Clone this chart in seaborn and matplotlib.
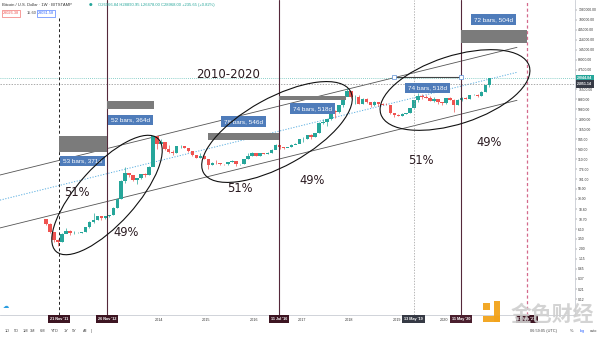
import numpy as np
import pandas as pd
import matplotlib
matplotlib.use("Agg")
import matplotlib.pyplot as plt
import matplotlib.dates as mdates
from matplotlib.patches import Ellipse, Rectangle
from matplotlib.transforms import blended_transform_factory
from matplotlib.ticker import NullLocator
import seaborn as sns

# ---------------------------------------------------------------- data
# Monthly BTC/USD candles (Bitstamp), Aug 2011 .. Dec 2020
months = pd.date_range("2011-08-01", "2020-12-01", freq="MS")
first_open = 10.5
closes = [
    8.2, 5.1, 3.3, 3.0, 4.7,
    5.5, 4.9, 4.9, 5.0, 5.2, 6.7, 9.3, 10.2, 12.4, 11.2, 12.6, 13.5,
    20.4, 33.4, 93.0, 139.0, 129.0, 97.0, 106.0, 135.0, 127.0, 198.0, 1120.0, 732.0,
    800, 550, 450, 445, 630, 640, 585, 480, 388, 338, 378, 320,
    217, 254, 244, 236, 230, 263, 284, 230, 236, 314, 377, 430,
    369, 437, 416, 448, 531, 673, 624, 573, 608, 700, 742, 964,
    970, 1190, 1080, 1350, 2300, 2480, 2875, 4700, 4340, 6450, 9950, 13850,
    10200, 10300, 6930, 9240, 7500, 6390, 7730, 7030, 6630, 6370, 4040, 3740,
    3460, 3810, 4100, 5320, 8570, 10820, 10080, 9600, 8300, 9150, 7560, 7190,
    9350, 8540, 6410, 8630, 9450, 9140, 11350, 11650, 10780, 13800, 19700, 29044.84,
]
highs = [
    11.0, 8.5, 5.2, 3.5, 4.9,
    6.5, 5.8, 5.4, 5.3, 5.3, 6.8, 9.5, 15.0, 12.6, 12.6, 12.8, 13.7,
    20.5, 33.5, 95.0, 200.0, 135.0, 125.0, 110.0, 135.0, 140.0, 205.0, 1150.0, 1000.0,
    950, 820, 680, 530, 630, 670, 640, 590, 490, 400, 440, 380,
    300, 265, 290, 255, 240, 265, 295, 280, 242, 318, 440, 460,
    440, 440, 430, 455, 535, 740, 670, 610, 612, 710, 748, 968,
    1100, 1195, 1250, 1350, 2500, 2900, 2880, 4700, 4800, 6400, 10500, 16500,
    14000, 11200, 11300, 9600, 9800, 7700, 8300, 7700, 7300, 7400, 6400, 4150,
    3900, 4100, 4130, 5500, 8800, 12500, 11900, 11500, 10500, 10000, 9200, 7600,
    9500, 10200, 9000, 9300, 9900, 10100, 11400, 12200, 11800, 13900, 19500, 29300,
]
lows = [
    7.5, 4.8, 2.9, 2.4, 2.9,
    4.9, 4.4, 4.7, 4.8, 4.9, 5.2, 6.6, 8.5, 10.1, 10.1, 10.6, 12.3,
    13.3, 19.8, 33.0, 80.0, 112.0, 92.0, 75.0, 102.0, 112.0, 125.0, 205.0, 560.0,
    750, 530, 445, 380, 440, 570, 570, 465, 375, 325, 335, 312,
    180, 218, 242, 220, 228, 225, 258, 210, 228, 238, 315, 360,
    362, 370, 412, 418, 448, 535, 560, 548, 598, 610, 705, 748,
    820, 950, 950, 1090, 1360, 2200, 2000, 2800, 3200, 4200, 5800, 10900,
    9800, 7000, 6800, 6700, 7200, 5900, 6200, 6100, 6300, 6300, 3900, 3300,
    3400, 3450, 3850, 4100, 5400, 7600, 9200, 9400, 8000, 7500, 6900, 6600,
    7000, 8500, 4400, 6600, 8200, 9000, 9100, 11100, 10200, 10700, 13300, 18000,
]
last_price = 29044.84

# trend channel (upper / centre / lower), start and end of each line
channel_dates = ["2010-08-27", "2021-07-15"]
channel_upper = [127.0, 165000.0]
channel_mid = [31.0, 40600.0]
channel_lower = [6.5, 8420.0]

# measured date ranges
range_starts = ["2011-11-21", "2012-11-26", "2015-01-14", "2016-07-11", "2018-12-10", "2020-05-11"]
range_ends = ["2012-11-26", "2013-11-25", "2016-07-11", "2017-12-11", "2020-05-11", "2021-09-27"]
range_labels = ["53 bars, 371d", "52 bars, 364d", "78 bars, 546d",
                "74 bars, 518d", "74 bars, 518d", "72 bars, 504d"]

# marked events on the time axis
event_dates = ["2011-11-21", "2012-11-26", "2016-07-11", "2019-05-13", "2020-05-11", "2021-09-27"]
event_labels = ["21 Nov '11", "26 Nov '12", "11 Jul '16", "13 May '19", "11 May '20", "27 Sep '21"]

share_labels = ["51%", "49%", "51%", "49%", "51%", "49%"]
title_text = "2010-2020"

price_ticks = [0.12, 0.21, 0.37, 0.65, 1.15, 2.00, 3.50, 6.10, 10.70, 18.80,
               33.00, 58.00, 101.00, 176.00, 310.00, 540.00, 945.00, 1650.00,
               2890.00, 5060.00, 8860.00, 15500.00, 47500.00, 83000.00,
               145000.00, 254000.00, 445000.00, 780000.00, 1360000.00]
year_ticks = [2014, 2015, 2016, 2017, 2018, 2019, 2020]

# ---------------------------------------------------------------- figure
W_PX, H_PX, DPI = 600, 337, 100
sns.set_theme(style="white")
plt.rcParams["font.family"] = ["DejaVu Sans", "Noto Sans CJK SC"]

UP, DOWN = "#26a69a", "#ef5350"
MAROON = "#55283a"

fig = plt.figure(figsize=(W_PX / DPI, H_PX / DPI), dpi=DPI)
fig.patch.set_facecolor("white")
ax = fig.add_axes([0, 22 / H_PX, 575 / W_PX, 315 / H_PX])
ax.set_facecolor("white")
ax.set_yscale("log")
ax.set_xlim(pd.Timestamp("2010-08-27"), pd.Timestamp("2022-10-04"))
ax.set_ylim(0.0489, 2.355e6)

inch = fig.dpi_scale_trans
def px(x, y):
    """figure position (inches) of a pixel measured from the top-left corner"""
    return x / DPI, (H_PX - y) / DPI

xdata_ypx = blended_transform_factory(ax.transData, inch)
xaxes_ydata = blended_transform_factory(ax.transAxes, ax.transData)

# ---------------------------------------------------------------- candles
mid = months + pd.Timedelta(days=14)
opens = [first_open] + closes[:-1]
colors = [UP if c >= o else DOWN for o, c in zip(opens, closes)]
body_lo = np.minimum(opens, closes)
body_hi = np.maximum(opens, closes)
ax.vlines(mid, lows, highs, colors=colors, lw=0.5, zorder=3)
ax.bar(mid, body_hi - body_lo, bottom=body_lo, width=27, color=colors,
       linewidth=0, zorder=4)

# ---------------------------------------------------------------- channel
cd = pd.to_datetime(channel_dates)
chan = pd.DataFrame({"date": list(cd) * 3,
                     "price": channel_upper + channel_mid + channel_lower,
                     "line": ["upper"] * 2 + ["mid"] * 2 + ["lower"] * 2})
sns.lineplot(data=chan[chan.line == "upper"], x="date", y="price", ax=ax,
             color="#555555", lw=0.6, zorder=2)
sns.lineplot(data=chan[chan.line == "lower"], x="date", y="price", ax=ax,
             color="#555555", lw=0.6, zorder=2)
sns.lineplot(data=chan[chan.line == "mid"], x="date", y="price", ax=ax,
             color="#5aaee0", lw=0.7, ls=(0, (1.2, 1.6)), zorder=2)

# last price line and crosshair
ax.axhline(last_price, color=UP, lw=0.6, ls=(0, (1, 1.5)), alpha=0.7, zorder=2)
cross_y = ax.transData.inverted().transform((0, H_PX - 84))[1]
ax.axhline(cross_y, color="#888888", lw=0.5, ls=(0, (2, 2)), zorder=2)

# ---------------------------------------------------------------- event lines
ev = pd.to_datetime(event_dates)
ax.axvline(ev[0], ymax=1 - 18 / 315, color="#222222", lw=0.7, ls=(0, (3, 2.5)), zorder=5)
for d in (ev[1], ev[2], ev[4]):
    ax.axvline(d, color=MAROON, lw=0.8, zorder=5)
ax.axvline(ev[3], color="#9a9a9a", lw=0.5, ls=(0, (2, 2)), zorder=5)
ax.axvline(ev[5], color="#d46a8c", lw=0.9, ls=(0, (2.5, 2)), zorder=5)

# ---------------------------------------------------------------- date ranges
rs = pd.to_datetime(range_starts)
re_ = pd.to_datetime(range_ends)
band_px = [(136, 152), (101, 109), (133, 140), (96, 99.5), None, (30, 43)]
label_px = [161, 120, 121.5, 108.5, 88, 19.5]
for s, e, band, ly, txt in zip(rs, re_, band_px, label_px, range_labels):
    x0, x1 = mdates.date2num(s), mdates.date2num(e)
    if band is not None:
        y_top, y_bot = band
        ax.add_patch(Rectangle((x0, (H_PX - y_bot) / DPI), x1 - x0,
                               (y_bot - y_top) / DPI, transform=xdata_ypx,
                               facecolor="#7b7b7b", edgecolor="none", zorder=6))
    else:
        ax.plot([x0, x1], [(H_PX - 77) / DPI] * 2, transform=xdata_ypx,
                color="#444444", lw=0.8, zorder=6)
        ax.plot([x0, x1], [(H_PX - 77) / DPI] * 2, transform=xdata_ypx, ls="none",
                marker="s", ms=2.2, mfc="white", mec="#5b8fd6", mew=0.5, zorder=7)
    ax.text((x0 + x1) / 2, (H_PX - ly) / DPI, txt, transform=xdata_ypx,
            ha="center", va="center", fontsize=4.6, color="white",
            family="Liberation Sans", zorder=8,
            bbox=dict(boxstyle="square,pad=0.45", fc="#4f7cba", ec="none"))

# ---------------------------------------------------------------- ellipses & notes
ellipses = [((107, 195), 76, 29, 48), ((277, 132), 84, 34, 29), ((455, 90), 78, 34, 18)]
for (cx, cy), a, b, ang in ellipses:
    fig.add_artist(Ellipse(px(cx, cy), 2 * a / DPI, 2 * b / DPI, angle=ang,
                           transform=inch, fill=False, ec="#111111", lw=0.8, zorder=9))

share_px = [(77, 193), (126, 232), (240, 188), (312, 180), (421, 160), (489, 143)]
for (x, y), t in zip(share_px, share_labels):
    fig.text(*px(x, y), t, transform=inch, ha="center", va="center",
             fontsize=8.3, color="#2a1a20", zorder=10)
fig.text(*px(228, 75), title_text, transform=inch, ha="center", va="center",
         fontsize=8.5, color="#2a1a20", zorder=10)

# ---------------------------------------------------------------- axes styling
for side in ("top", "left"):
    ax.spines[side].set_visible(False)
for side in ("right", "bottom"):
    ax.spines[side].set_color("#c9ccd3")
    ax.spines[side].set_linewidth(0.6)
ax.yaxis.tick_right()
ax.yaxis.set_minor_locator(NullLocator())
ax.set_yticks(price_ticks)
ax.set_yticklabels([f"{v:.2f}" for v in price_ticks])
ax.tick_params(axis="y", labelsize=2.4, length=1.2, width=0.3, pad=1.2,
               colors="#444444", labelcolor="#333333")
ax.set_xticks([pd.Timestamp(f"{y}-01-01") for y in year_ticks])
ax.set_xticklabels([str(y) for y in year_ticks])
ax.tick_params(axis="x", labelsize=2.7, length=0, pad=2.2, labelcolor="#333333")
ax.set_xlabel("")
ax.set_ylabel("")
ax.grid(False)
for lbl in ax.get_xticklabels() + ax.get_yticklabels():
    lbl.set_family("Liberation Sans")

# date tags on the time axis
tag_colors = ["#3d1522", "#3d1522", "#3d1522", "#363a45", "#4a1f2e", "#3d1522"]
for d, t, c in zip(ev, event_labels, tag_colors):
    ax.text(mdates.date2num(d), (H_PX - 319) / DPI, t, transform=xdata_ypx,
            ha="center", va="center", fontsize=2.7, color="white", weight="bold",
            family="Liberation Sans", zorder=12, clip_on=False,
            bbox=dict(boxstyle="square,pad=0.5", fc=c, ec="none"))

# price tags on the price axis
ax.text(1.004, last_price, f"{last_price:.2f}", transform=xaxes_ydata, ha="left",
        va="center", fontsize=2.5, color="white", weight="bold", family="Liberation Sans",
        clip_on=False, zorder=12, bbox=dict(boxstyle="square,pad=0.45", fc=UP, ec="none"))
ax.text(1.004, cross_y, f"{cross_y:.2f}", transform=xaxes_ydata, ha="left",
        va="center", fontsize=2.5, color="white", weight="bold", family="Liberation Sans",
        clip_on=False, zorder=12, bbox=dict(boxstyle="square,pad=0.45", fc="#363a45", ec="none"))

# ---------------------------------------------------------------- header / footer
fig.text(*px(2, 5), "Bitcoin / U.S. Dollar · 1W · BITSTAMP", transform=inch,
         fontsize=3.0, color="#333333", va="center", family="Liberation Sans")
fig.text(*px(91, 5), "●", transform=inch, fontsize=3.0, color=UP, va="center", ha="center")
fig.text(*px(98, 5), "O26966.84 H28890.95 L26478.00 C28968.00 +235.65 (+0.82%)",
         transform=inch, fontsize=3.0, color=UP, va="center", family="Liberation Sans")
fig.text(*px(3, 13.5), "29026.38", transform=inch, fontsize=2.8, color=DOWN, va="center",
         family="Liberation Sans",
         bbox=dict(boxstyle="square,pad=0.35", fc="white", ec=DOWN, lw=0.4))
fig.text(*px(27, 13.5), "15.60", transform=inch, fontsize=2.8, color="#444444",
         va="center", family="Liberation Sans")
fig.text(*px(38, 13.5), "29031.58", transform=inch, fontsize=2.8, color="#2962ff",
         va="center", family="Liberation Sans",
         bbox=dict(boxstyle="square,pad=0.35", fc="white", ec="#2962ff", lw=0.4))

fig.text(*px(6, 307), "☁", transform=inch, fontsize=4.5, color="#2a9de0",
         ha="center", va="center")
for x, t in zip([7, 16, 25, 33, 42, 55, 66, 74, 85, 91],
                ["1D", "5D", "1M", "3M", "6M", "YTD", "1Y", "5Y", "All", "|"]):
    fig.text(*px(x, 331), t, transform=inch, fontsize=2.8, color="#444444",
             ha="center", va="center", family="Liberation Sans")
fig.text(*px(543, 331), "06:59:05 (UTC)", transform=inch, fontsize=2.8, color="#444444",
         ha="center", va="center", family="Liberation Sans")
fig.text(*px(572, 331), "%", transform=inch, fontsize=2.8, color="#444444",
         ha="center", va="center", family="Liberation Sans")
fig.text(*px(582, 331), "log", transform=inch, fontsize=2.8, color="#2962ff",
         ha="center", va="center", family="Liberation Sans")
fig.text(*px(593, 331), "auto", transform=inch, fontsize=2.8, color="#444444",
         ha="center", va="center", family="Liberation Sans")

# watermark: orange logo and brand name
for (x0, y0, w, h) in [(483, 303, 7, 7), (494, 301, 6, 21), (483, 316, 17, 6)]:
    fig.add_artist(Rectangle(px(x0, y0 + h), w / DPI, h / DPI, transform=inch,
                             facecolor="#f2a31b", edgecolor="none", alpha=0.95, zorder=19))
fig.text(*px(552, 314), "金色财经", transform=inch, fontsize=15, color="#cfcfcf",
         ha="center", va="center", family="Noto Sans CJK SC", weight="bold", alpha=0.9,
         zorder=20)

fig.savefig("out.png", dpi=DPI, facecolor="white")
